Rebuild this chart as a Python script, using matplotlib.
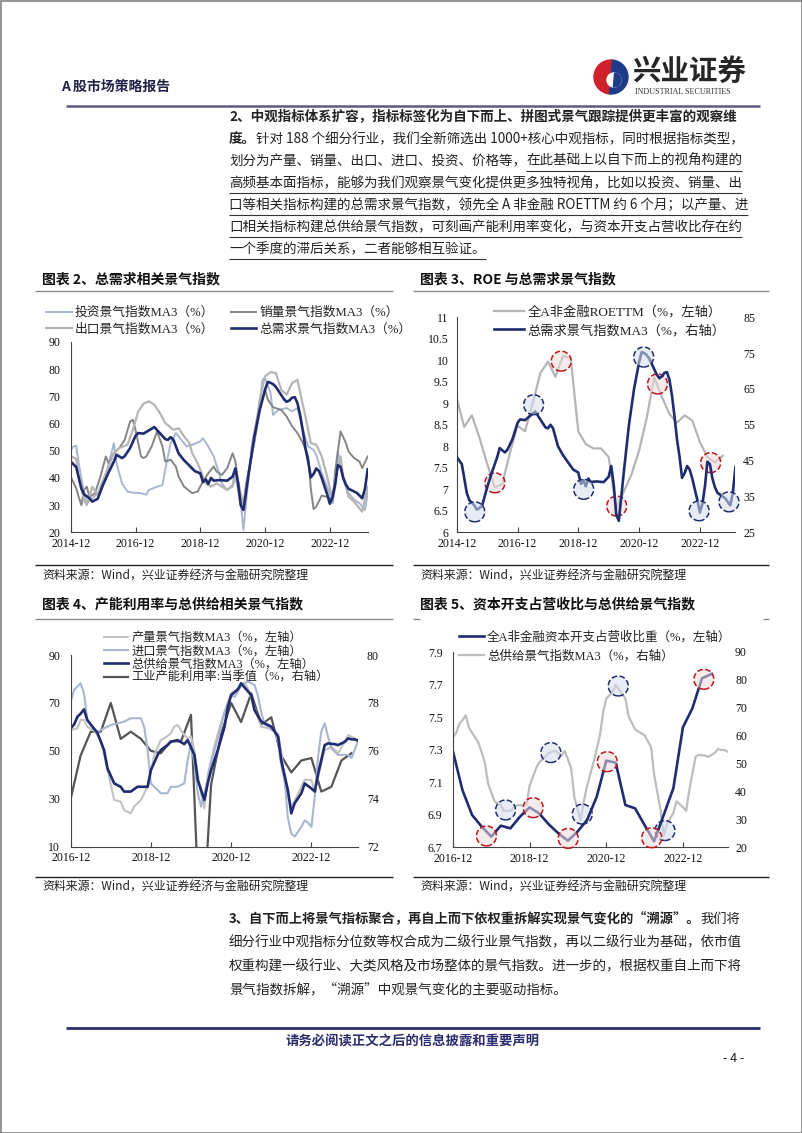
import matplotlib
matplotlib.use("Agg")
import matplotlib.pyplot as plt
import matplotlib.dates as mdates
import pandas as pd
from matplotlib.font_manager import FontProperties
from matplotlib.lines import Line2D
from matplotlib.patches import Wedge, Circle, Rectangle
from matplotlib.ticker import FuncFormatter

plt.rcParams["font.family"] = ["Liberation Serif", "Noto Sans CJK SC"]
plt.rcParams["axes.unicode_minus"] = False

CJK = ["Noto Sans CJK SC", "DejaVu Sans"]
MIX = ["Liberation Serif", "Noto Sans CJK SC"]

# ---------------------------------------------------------------- data
# demand side sentiment indices (MA3, %)
TOTAL_DEMAND = [
    ("2014-12", 46), ("2015-02", 44), ("2015-04", 36), ("2015-05", 34), ("2015-07", 32.5),
    ("2015-08", 31.3), ("2015-10", 32.3), ("2015-12", 37.5), ("2016-02", 42), ("2016-04", 46),
    ("2016-05", 48.5), ("2016-07", 47.3), ("2016-08", 48), ("2016-10", 51), ("2016-12", 55.5),
    ("2017-01", 56.5), ("2017-03", 56.3), ("2017-05", 57.5), ("2017-07", 58.7), ("2017-09", 56.5),
    ("2017-11", 54.3), ("2017-12", 54), ("2018-01", 55), ("2018-02", 54), ("2018-04", 49),
    ("2018-06", 46.5), ("2018-08", 44.5), ("2018-10", 42.5), ("2018-12", 41.7), ("2019-01", 38.5),
    ("2019-02", 39.5), ("2019-03", 37.8), ("2019-04", 40), ("2019-05", 39), ("2019-07", 39.2),
    ("2019-10", 39), ("2019-12", 40.5), ("2020-01", 43.5), ("2020-02", 38), ("2020-03", 30),
    ("2020-04", 28.2), ("2020-06", 42), ("2020-08", 55), ("2020-10", 65), ("2020-12", 72.5),
    ("2021-01", 75.3), ("2021-02", 75), ("2021-03", 74.5), ("2021-04", 73.5), ("2021-06", 70.5),
    ("2021-07", 69), ("2021-08", 68), ("2021-09", 68.5), ("2021-10", 69.5), ("2021-11", 69.7),
    ("2021-12", 67.5), ("2022-01", 63), ("2022-02", 57), ("2022-03", 51), ("2022-04", 46),
    ("2022-05", 40.2), ("2022-06", 41.5), ("2022-07", 43.5), ("2022-08", 42.5), ("2022-09", 40),
    ("2022-10", 37), ("2022-11", 34), ("2022-12", 30.5), ("2023-01", 33), ("2023-02", 38),
    ("2023-03", 44.7), ("2023-04", 44), ("2023-05", 40), ("2023-06", 37.5), ("2023-07", 36),
    ("2023-08", 35.5), ("2023-09", 35), ("2023-10", 34.5), ("2023-11", 33.5), ("2023-12", 32.5),
    ("2024-01", 36), ("2024-02", 43.2),
]
INVEST = [
    ("2014-12", 50.3), ("2015-01", 51.6), ("2015-02", 51.8), ("2015-03", 45.4), ("2015-05", 34.4),
    ("2015-06", 30.7), ("2015-08", 32.5), ("2015-10", 34.4), ("2015-11", 35), ("2016-01", 40.5),
    ("2016-02", 45), ("2016-04", 52.8), ("2016-05", 45.4), ("2016-07", 38), ("2016-09", 35),
    ("2016-11", 34.6), ("2017-02", 34.4), ("2017-04", 33.8), ("2017-05", 35.6), ("2017-08", 36.8),
    ("2017-10", 37.4), ("2017-11", 43), ("2018-01", 52.8), ("2018-03", 56.5), ("2018-05", 54),
    ("2018-07", 51.6), ("2018-09", 52.2), ("2018-12", 53.4), ("2019-01", 54.6), ("2019-03", 51.6),
    ("2019-05", 47.9), ("2019-07", 41.7), ("2019-08", 38), ("2019-10", 35.6), ("2019-12", 36.8),
    ("2020-01", 40.5), ("2020-03", 30.7), ("2020-04", 20.9), ("2020-05", 30.7), ("2020-07", 51.6),
    ("2020-10", 67.5), ("2020-11", 76.1), ("2020-12", 76.8), ("2021-02", 71.2), ("2021-03", 63.2),
    ("2021-05", 65), ("2021-08", 65.7), ("2021-10", 64.5), ("2021-12", 65.7), ("2022-02", 57.7),
    ("2022-04", 51.6), ("2022-06", 50.3), ("2022-07", 48.5), ("2022-09", 41.7), ("2022-11", 36.8),
    ("2023-01", 30.7), ("2023-02", 36.8), ("2023-03", 50), ("2023-05", 39.3), ("2023-07", 34.4),
    ("2023-09", 32), ("2023-11", 30.7), ("2024-01", 28.2), ("2024-02", 34.4),
]
SALES = [
    ("2014-12", 40.5), ("2015-02", 36.2), ("2015-03", 33), ("2015-04", 30), ("2015-05", 35.6),
    ("2015-06", 36.8), ("2015-07", 33), ("2015-09", 34.4), ("2015-11", 40.5), ("2016-01", 47.9),
    ("2016-02", 45.4), ("2016-04", 49.1), ("2016-06", 51), ("2016-08", 54), ("2016-10", 60.8),
    ("2016-11", 61.4), ("2016-12", 57.7), ("2017-02", 47.9), ("2017-03", 47.3), ("2017-04", 47.9),
    ("2017-06", 51.6), ("2017-08", 57.1), ("2017-10", 51.6), ("2017-11", 46), ("2018-01", 46.7),
    ("2018-03", 44.2), ("2018-04", 40.5), ("2018-06", 36.8), ("2018-09", 34.4), ("2018-11", 35),
    ("2019-01", 38.7), ("2019-03", 41.7), ("2019-05", 44.2), ("2019-06", 42.4), ("2019-08", 41.1),
    ("2019-10", 43.6), ("2019-12", 49.1), ("2020-01", 46), ("2020-03", 31.9), ("2020-04", 30),
    ("2020-05", 38), ("2020-08", 52.8), ("2020-10", 65), ("2020-12", 72.5), ("2021-01", 68.8),
    ("2021-03", 66), ("2021-06", 65), ("2021-08", 62.6), ("2021-10", 59), ("2021-12", 56.5),
    ("2022-02", 52.8), ("2022-04", 47.9), ("2022-05", 36), ("2022-06", 28.5), ("2022-07", 29.5),
    ("2022-09", 33.5), ("2022-11", 33), ("2023-01", 31.5), ("2023-02", 43), ("2023-04", 57.1),
    ("2023-06", 52.8), ("2023-07", 49.7), ("2023-09", 47.3), ("2023-11", 46), ("2023-12", 43.6),
    ("2024-02", 47.9),
]
EXPORT = [
    ("2014-12", 48), ("2015-02", 47), ("2015-03", 40.5), ("2015-05", 32), ("2015-06", 30),
    ("2015-08", 36.8), ("2015-10", 33.8), ("2015-11", 36.8), ("2016-01", 41.7), ("2016-04", 49.1),
    ("2016-06", 51), ("2016-09", 52.2), ("2016-11", 57.7), ("2017-01", 64.5), ("2017-03", 67.3),
    ("2017-05", 68.2), ("2017-07", 66.9), ("2017-09", 63.9), ("2017-11", 60.2), ("2018-02", 57.7),
    ("2018-04", 58.3), ("2018-06", 55.3), ("2018-08", 52.8), ("2018-09", 49.1), ("2018-11", 45.4),
    ("2019-01", 40.5), ("2019-02", 38), ("2019-04", 36.8), ("2019-06", 38), ("2019-08", 36.8),
    ("2019-10", 35.6), ("2019-12", 37.4), ("2020-01", 43), ("2020-03", 34.4), ("2020-04", 29.5),
    ("2020-05", 36.8), ("2020-08", 54), ("2020-10", 68.8), ("2020-12", 77.4), ("2021-02", 78.9),
    ("2021-04", 78.6), ("2021-06", 72.5), ("2021-08", 70.6), ("2021-10", 74.9), ("2021-12", 76.1),
    ("2022-01", 71.2), ("2022-03", 62.6), ("2022-05", 52.8), ("2022-07", 52.2), ("2022-09", 47.9),
    ("2022-11", 40.5), ("2023-01", 31.9), ("2023-02", 40.5), ("2023-04", 47.9), ("2023-05", 40.5),
    ("2023-07", 33), ("2023-09", 31.3), ("2023-10", 30), ("2023-12", 27.6), ("2024-02", 36.8),
]
# A-share non-financial ROE TTM (%), quarterly from 2014-12
ROE_START = "2014-12"
ROE = [9.12, 8.45, 8.72, 8.2, 7.6, 7.05, 7.12, 7.85, 8.48, 8.35, 9.0, 9.7, 9.97, 9.62, 10.1,
       10.05, 8.35, 8.05, 7.95, 7.95, 7.75, 6.55, 6.95, 7.35, 7.9, 8.65, 9.6, 9.15, 8.75, 8.55,
       8.72, 8.6, 8.1, 7.75, 7.62, 7.78]

# supply side sentiment indices (MA3, %)
TOTAL_SUPPLY = [
    ("2016-12", 59.4), ("2017-01", 61), ("2017-02", 64.3), ("2017-03", 65.5), ("2017-04", 67.3),
    ("2017-05", 62.9), ("2017-06", 61), ("2017-08", 57.5), ("2017-10", 50.3), ("2017-11", 42.7),
    ("2018-01", 36.4), ("2018-03", 35), ("2018-04", 33), ("2018-06", 33), ("2018-08", 35),
    ("2018-11", 35), ("2018-12", 42), ("2019-02", 48.3), ("2019-03", 50.3), ("2019-05", 52.4),
    ("2019-06", 53.8), ("2019-08", 54.5), ("2019-10", 52.8), ("2019-11", 54.5), ("2020-01", 48.3),
    ("2020-02", 37.8), ("2020-04", 29.5), ("2020-05", 36.4), ("2020-06", 42), ("2020-08", 50.3),
    ("2020-10", 60), ("2020-11", 68.4), ("2020-12", 73.3), ("2021-02", 75.7), ("2021-03", 78.2),
    ("2021-04", 76.5), ("2021-06", 73.3), ("2021-07", 67), ("2021-09", 62.2), ("2021-11", 60.8),
    ("2021-12", 60.1), ("2022-02", 55.9), ("2022-03", 46.1), ("2022-05", 33.6), ("2022-06", 23.9),
    ("2022-07", 28.1), ("2022-09", 32.3), ("2022-10", 36.4), ("2022-12", 34.3), ("2023-01", 33),
    ("2023-02", 40.6), ("2023-04", 52.4), ("2023-05", 53.1), ("2023-07", 52.8), ("2023-08", 52.4),
    ("2023-10", 53.8), ("2023-11", 55.2), ("2023-12", 54.8), ("2024-01", 54.8), ("2024-02", 54.2),
]
OUTPUT = [
    ("2016-12", 58.7), ("2017-02", 59.4), ("2017-03", 62.9), ("2017-04", 62.9), ("2017-05", 60.1),
    ("2017-07", 58.5), ("2017-09", 54.5), ("2017-11", 42), ("2018-01", 29.5), ("2018-03", 28.8),
    ("2018-04", 25.3), ("2018-06", 23.9), ("2018-07", 26.7), ("2018-09", 29.5), ("2018-11", 35),
    ("2019-01", 48.3), ("2019-03", 54.5), ("2019-04", 55.2), ("2019-06", 57.3), ("2019-07", 60.1),
    ("2019-08", 60.8), ("2019-10", 56.6), ("2019-11", 55.2), ("2019-12", 56), ("2020-01", 50),
    ("2020-02", 40), ("2020-03", 32), ("2020-04", 26), ("2020-05", 40), ("2020-07", 52),
    ("2020-09", 62), ("2020-11", 70.5), ("2020-12", 74), ("2021-02", 76), ("2021-04", 78.5),
    ("2021-05", 76), ("2021-07", 68), ("2021-09", 60), ("2021-11", 59.5), ("2022-01", 58),
    ("2022-02", 54), ("2022-03", 44), ("2022-05", 31), ("2022-06", 27), ("2022-07", 29),
    ("2022-09", 35), ("2022-10", 38), ("2022-12", 37.8), ("2023-01", 33), ("2023-02", 39.2),
    ("2023-04", 50.3), ("2023-06", 51.7), ("2023-08", 49), ("2023-10", 53.8), ("2023-11", 56.6),
    ("2024-01", 55.2), ("2024-02", 53.8),
]
IMPORT = [
    ("2016-12", 70.5), ("2017-01", 75.4), ("2017-03", 78.2), ("2017-04", 74), ("2017-05", 62.9),
    ("2017-07", 59.4), ("2017-08", 58), ("2017-12", 60.8), ("2018-02", 61.5), ("2018-04", 62.2),
    ("2018-06", 63.6), ("2018-09", 63.6), ("2018-10", 60), ("2018-11", 50.3), ("2018-12", 36.4),
    ("2019-02", 33.6), ("2019-03", 32.3), ("2019-05", 32.3), ("2019-06", 35), ("2019-08", 35),
    ("2019-10", 36.4), ("2019-11", 46.2), ("2019-12", 53), ("2020-01", 45), ("2020-02", 32.3),
    ("2020-03", 26.7), ("2020-05", 37.8), ("2020-06", 45), ("2020-08", 55), ("2020-10", 66),
    ("2020-12", 73), ("2021-01", 72.5), ("2021-03", 77), ("2021-05", 79), ("2021-07", 77.5),
    ("2021-08", 73), ("2021-09", 66), ("2021-10", 61), ("2021-12", 59.5), ("2022-02", 57),
    ("2022-03", 50), ("2022-04", 38), ("2022-05", 22), ("2022-06", 15.5), ("2022-07", 14.2),
    ("2022-09", 18.3), ("2022-10", 21), ("2022-11", 20), ("2022-12", 18.3), ("2023-01", 30.8),
    ("2023-02", 48), ("2023-03", 58), ("2023-04", 61.5), ("2023-05", 56), ("2023-06", 51),
    ("2023-08", 48.3), ("2023-11", 48.3), ("2023-12", 47), ("2024-02", 54.5),
]
# quarterly series starting 2016-12
Q_START = "2016-12"
CAPACITY_UTIL = [74.0, 75.8, 76.8, 76.8, 78.0, 76.5, 76.8, 76.5, 76.0, 75.9, 76.4, 76.4, 77.5,
                 67.3, 74.6, 76.7, 78.0, 77.2, 78.4, 77.1, 77.4, 75.8, 75.1, 75.6, 75.7, 74.3,
                 74.5, 75.6, 75.9]
CAPEX_RATIO = [7.287, 7.05, 6.897, 6.825, 6.764, 6.831, 6.815, 6.887, 6.944, 6.907, 6.84,
               6.784, 6.739, 6.794, 6.866, 7.01, 7.231, 7.219, 6.958, 6.938, 6.835, 6.735,
               6.897, 7.061, 7.436, 7.553, 7.738, 7.765]

# highlighted turning points (dashed rings)
ROE_RINGS = [("2016-03-04", 7.15), ("2018-05-10", 9.98), ("2020-03-07", 6.61),
             ("2021-07-10", 9.45), ("2023-04-10", 7.62)]
DEMAND_RINGS = [("2015-07-06", 30.7), ("2017-06-13", 60.6), ("2019-02-04", 37.0),
                ("2021-01-25", 73.9), ("2022-11-22", 31.0), ("2023-11-16", 33.5)]
CAPEX_RINGS = [("2017-10-16", 6.768), ("2019-01-04", 6.942), ("2019-12-04", 6.753),
               ("2020-12-10", 7.225), ("2022-02-07", 6.757), ("2023-06-19", 7.732)]
SUPPLY_RINGS = [("2018-04-16", 33.3), ("2019-06-22", 53.9), ("2020-04-16", 31.8),
                ("2021-03-25", 77.8), ("2022-06-13", 25.9)]

TICKS_A = ["2014-12", "2016-12", "2018-12", "2020-12", "2022-12"]
TICKS_B = ["2016-12", "2018-12", "2020-12", "2022-12"]

NAVY = "#1F2C70"
LIGHT = "#B5B5B5"
BLUEGRAY = "#A9B6D2"
MID = "#858585"
DARK = "#555555"
RED = "#C0141C"

# ---------------------------------------------------------------- page
W, H = 802, 1133
fig = plt.figure(figsize=(W / 100, H / 100), dpi=100)
page = fig.add_axes([0, 0, 1, 1])
page.set_xlim(0, W)
page.set_ylim(H, 0)
page.axis("off")


def frac(x0, x1, ytop, ybot):
    return [x0 / W, 1 - ybot / H, (x1 - x0) / W, (ybot - ytop) / H]


def xy(pairs):
    return pd.to_datetime([p[0] for p in pairs]), [p[1] for p in pairs]


def quarterly(start, vals):
    return pd.date_range(start + "-01", periods=len(vals), freq="3MS"), vals


def put(x, y, s, size, weight="normal", color="#222222", ha="left"):
    return page.text(x, y, s, fontsize=size, fontweight=weight, color=color,
                     family=CJK, va="center", ha=ha)


def hline(x0, x1, y, color, lw):
    page.add_line(Line2D([x0, x1], [y, y], color=color, lw=lw, solid_capstyle="butt"))


def style(ax, start, end, ticks, pad):
    ax.set_xlim(pd.Timestamp(start), pd.Timestamp(end))
    ax.set_xticks(pd.to_datetime(ticks))
    ax.xaxis.set_major_formatter(mdates.DateFormatter("%Y-%m"))
    ax.set_facecolor("none")
    for s in ("top", "right"):
        ax.spines[s].set_visible(False)
    for s in ("left", "bottom"):
        ax.spines[s].set_color("#444444")
        ax.spines[s].set_linewidth(0.8)
    ax.tick_params(axis="x", direction="in", length=3.5, width=0.8, color="#444444",
                   pad=4, labelsize=8.5, labelcolor="#111111")
    ax.tick_params(axis="y", length=0, pad=pad, labelsize=8.5, labelcolor="#111111")


def right_axis(ax, pad):
    axr = ax.twinx()
    for s in axr.spines.values():
        s.set_visible(False)
    axr.tick_params(axis="y", length=0, pad=pad, labelsize=8.5, labelcolor="#111111")
    return axr


def rings(ax, pairs, edge, face):
    d, v = xy(pairs)
    ax.scatter(d, v, s=205, facecolors=face, edgecolors=edge, linewidths=1.1,
               linestyle="--", zorder=6, clip_on=False)


def legend(ax, handles, labels, x, y, size, **kw):
    leg = ax.legend(handles, labels, loc="upper left", bbox_to_anchor=(x / W, 1 - y / H),
                    bbox_transform=fig.transFigure, frameon=False, borderpad=0,
                    borderaxespad=0, handletextpad=0.25,
                    prop=FontProperties(family=MIX, size=size), **kw)
    for t in leg.get_texts():
        t.set_color("#222222")
    return leg


BLUE_FACE = (0.84, 0.87, 0.93, 0.55)
RED_FACE = (0.93, 0.86, 0.86, 0.55)

# ---------------------------------------------------------------- chart 2
ax2 = fig.add_axes(frac(70.7, 367.7, 342, 532.3))
style(ax2, "2014-12-01", "2024-02-01", TICKS_A, 7.5)
ax2.set_ylim(20, 90)
ax2.set_yticks(range(20, 91, 10))
l_inv, = ax2.plot(*xy(INVEST), color=BLUEGRAY, lw=1.4)
l_sal, = ax2.plot(*xy(SALES), color=MID, lw=1.4)
l_exp, = ax2.plot(*xy(EXPORT), color=LIGHT, lw=1.6)
l_dem, = ax2.plot(*xy(TOTAL_DEMAND), color=NAVY, lw=1.9)
legend(ax2, [l_inv, l_exp, l_sal, l_dem],
       ["投资景气指数MA3（%）", "出口景气指数MA3（%）",
        "销量景气指数MA3（%）", "总需求景气指数MA3（%）"],
       46, 307, 9.2, ncol=2, handlelength=2.0, columnspacing=1.3, labelspacing=0.3)

# ---------------------------------------------------------------- chart 3
ax3 = fig.add_axes(frac(456.7, 735.4, 317.3, 532.3))
style(ax3, "2014-12-01", "2024-02-01", TICKS_A, 6)
ax3.set_ylim(6, 11)
ax3.set_yticks([6 + 0.5 * i for i in range(11)])
ax3.yaxis.set_major_formatter(FuncFormatter(lambda v, _: f"{v:g}"))
l_roe, = ax3.plot(*quarterly(ROE_START, ROE), color=LIGHT, lw=1.6)
rings(ax3, ROE_RINGS, RED, RED_FACE)
ax3r = right_axis(ax3, 5.5)
ax3r.set_ylim(25, 85)
ax3r.set_yticks(range(25, 86, 10))
l_dem3, = ax3r.plot(*xy(TOTAL_DEMAND), color=NAVY, lw=1.9)
rings(ax3r, DEMAND_RINGS, NAVY, BLUE_FACE)
legend(ax3r, [l_roe, l_dem3], ["全A非金融ROETTM（%，左轴）", "总需求景气指数MA3（%，右轴）"],
       494, 306, 9.5, handlelength=2.3, labelspacing=0.4)

# ---------------------------------------------------------------- chart 4
ax4 = fig.add_axes(frac(70.7, 358.3, 655, 846.7))
style(ax4, "2016-12-01", "2024-02-01", TICKS_B, 7.5)
ax4.set_ylim(10, 90)
ax4.set_yticks(range(10, 91, 20))
ax4r = right_axis(ax4, 6.2)
ax4r.set_ylim(72, 80)
ax4r.set_yticks(range(72, 81, 2))
l_cap, = ax4r.plot(*quarterly(Q_START, CAPACITY_UTIL), color=DARK, lw=1.6)
ax4.set_zorder(ax4r.get_zorder() + 1)
ax4.patch.set_visible(False)
l_out, = ax4.plot(*xy(OUTPUT), color="#C2C2C2", lw=1.5)
l_imp, = ax4.plot(*xy(IMPORT), color=BLUEGRAY, lw=1.5)
l_sup, = ax4.plot(*xy(TOTAL_SUPPLY), color=NAVY, lw=1.9)
legend(ax4, [l_out, l_imp, l_sup, l_cap],
       ["产量景气指数MA3（%，左轴）", "进口景气指数MA3（%，左轴）",
        "总供给景气指数MA3（%，左轴）", "工业产能利用率:当季值（%，右轴）"],
       104, 632, 8.8, handlelength=2.0, labelspacing=0.1)

# ---------------------------------------------------------------- chart 5
ax5 = fig.add_axes(frac(453, 727.7, 652, 847))
style(ax5, "2016-12-01", "2024-02-01", TICKS_B, 7.5)
ax5.set_ylim(6.7, 7.9)
ax5.set_yticks([6.7 + 0.2 * i for i in range(7)])
ax5.yaxis.set_major_formatter(FuncFormatter(lambda v, _: f"{v:.1f}"))
ax5r = right_axis(ax5, 5.3)
ax5r.set_ylim(20, 90)
ax5r.set_yticks(range(20, 91, 10))
l_sup5, = ax5r.plot(*xy(TOTAL_SUPPLY), color="#BDBDBD", lw=1.6)
rings(ax5r, SUPPLY_RINGS, NAVY, BLUE_FACE)
ax5.set_zorder(ax5r.get_zorder() + 1)
ax5.patch.set_visible(False)
l_capex, = ax5.plot(*quarterly(Q_START, CAPEX_RATIO), color=NAVY, lw=1.9)
rings(ax5, CAPEX_RINGS, RED, RED_FACE)
legend(ax5, [l_capex, l_sup5], ["全A非金融资本开支占营收比重（%，左轴）", "总供给景气指数MA3（%，右轴）"],
       459, 631, 9, handlelength=2.0, labelspacing=0.55)

# ---------------------------------------------------------------- page furniture
page.add_patch(Rectangle((0.5, 0.5), W - 1, H - 1, fill=False, ec="#808080", lw=1.2))
put(61, 87, "A 股市场策略报告", 10, "bold", "#23234a")
hline(66, 760, 106, "#5c5c7e", 1.8)

# logo
page.add_patch(Wedge((611, 77), 17, 95, 275, color="#D0202A"))
page.add_patch(Wedge((611, 77), 17, 275, 95, color="#1F3C88"))
page.add_patch(Circle((614, 80), 7, color="white"))
page.add_patch(Wedge((614, 80), 7, 275, 95, color="#1F3C88"))
put(632, 72, "兴业证券", 20.5, "bold", "#262626")
page.text(635, 92, "INDUSTRIAL SECURITIES", fontsize=5.9, family=MIX, color="#333333",
          va="center")

# paragraph 2
FS = 9.75
LX = 229
rows2 = [117, 139, 161, 183, 205, 227, 249]
put(LX, rows2[0], "2、中观指标体系扩容，指标标签化为自下而上、拼图式景气跟踪提供更丰富的观察维", FS, "bold")
t = put(LX, rows2[1], "度。", FS, "bold")
page.annotate("针对 188 个细分行业，我们全新筛选出 1000+核心中观指标，同时根据指标类型，",
              xy=(1, 0), xycoords=t, va="bottom", ha="left", fontsize=FS, family=CJK,
              color="#222222")
t = put(LX, rows2[2], "划分为产量、销量、出口、进口、投资、价格等，", FS)
under = [page.annotate("在此基础上以自下而上的视角构建的", xy=(1, 0), xycoords=t, va="bottom",
                       ha="left", fontsize=FS, family=CJK, color="#222222")]
under.append(put(LX, rows2[3], "高频基本面指标，能够为我们观察景气变化提供更多独特视角，比如以投资、销量、出", FS))
under.append(put(LX, rows2[4], "口等相关指标构建的总需求景气指数，领先全 A 非金融 ROETTM 约 6 个月；以产量、进", FS))
under.append(put(LX, rows2[5], "口相关指标构建总供给景气指数，可刻画产能利用率变化，与资本开支占营收比存在约", FS))
under.append(put(LX, rows2[6], "一个季度的滞后关系，二者能够相互验证。", FS))

# chart titles, separators, sources
put(42, 279, "图表 2、总需求相关景气指数", 10, "bold", "#111111")
put(420, 279, "图表 3、ROE 与总需求景气指数", 10, "bold", "#111111")
hline(35, 393, 291, "#8c8c8c", 1.0)
hline(413, 769, 291, "#8c8c8c", 1.0)
for y_line, y_txt in ((565, 576), (877, 887)):
    hline(35, 393, y_line, "#222222", 1.0)
    hline(413, 769, y_line, "#222222", 1.0)
    put(42, y_txt, "资料来源：Wind，兴业证券经济与金融研究院整理", 8.6)
    put(420, y_txt, "资料来源：Wind，兴业证券经济与金融研究院整理", 8.6)
put(42, 604, "图表 4、产能利用率与总供给相关景气指数", 10, "bold", "#111111")
put(420, 604, "图表 5、资本开支占营收比与总供给景气指数", 10, "bold", "#111111")
hline(35, 393, 619, "#8c8c8c", 1.0)
hline(413, 420, 619, "#8c8c8c", 1.0)
hline(763, 769, 619, "#8c8c8c", 1.0)

# paragraph 3
rows3 = [919, 942, 966, 989]
t = put(LX, rows3[0], "3、自下而上将景气指标聚合，再自上而下依权重拆解实现景气变化的“溯源”。", 9.55, "bold")
page.annotate("我们将", xy=(1, 0), xycoords=t, va="bottom", ha="left", fontsize=9.55,
              family=CJK, color="#222222")
put(LX, rows3[1], "细分行业中观指标分位数等权合成为二级行业景气指数，再以二级行业为基础，依市值", FS)
put(LX, rows3[2], "权重构建一级行业、大类风格及市场整体的景气指数。进一步的，根据权重自上而下将", FS)
put(LX, rows3[3], "景气指数拆解，“溯源”中观景气变化的主要驱动指标。", FS)

# footer
hline(66, 760, 1028, "#2a2d6e", 2.0)
put(413, 1041, "请务必阅读正文之后的信息披露和重要声明", 9.6, "bold", "#2a2d6e", ha="center")
put(744, 1058, "- 4 -", 9, ha="right")

# underline the highlighted sentence
fig.canvas.draw()
inv = page.transData.inverted()
for tx, y in zip(under, rows2[2:]):
    bb = tx.get_window_extent()
    (x0, _), (x1, _) = inv.transform([(bb.x0, bb.y0), (bb.x1, bb.y1)])
    hline(x0, x1, y + 9.5, "#333333", 0.8)

fig.savefig("out.png", dpi=100)
